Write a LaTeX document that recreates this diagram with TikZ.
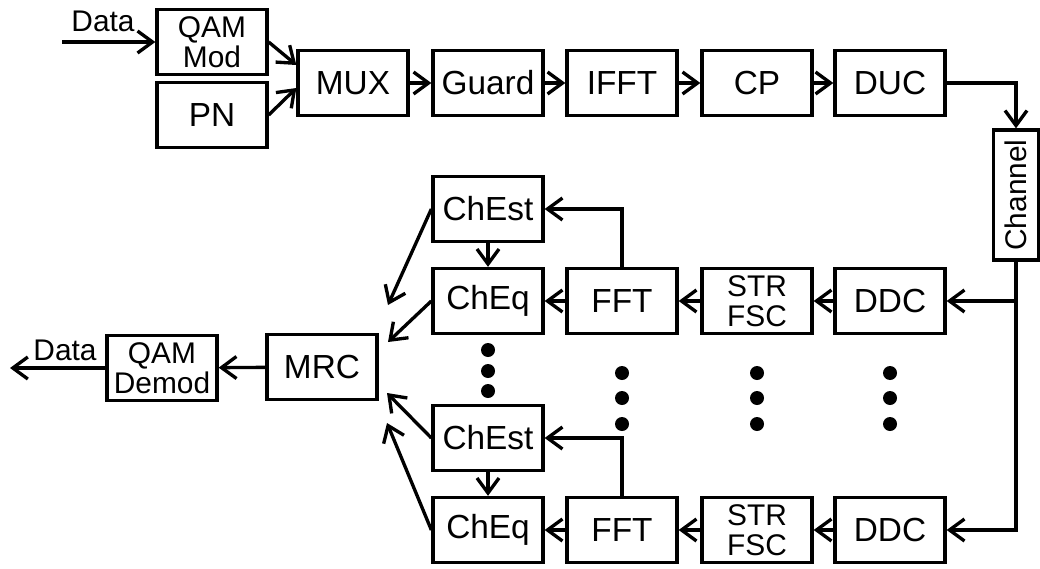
\documentclass[tikz,border=0pt]{standalone}
\usepackage{fontspec}
\setmainfont{Liberation Sans}
\usetikzlibrary{arrows.meta}
\begin{document}
\begin{tikzpicture}[x=0.02cm,y=-0.02cm,line width=1.9pt,
  >={Straight Barb[length=3mm,width=4.4mm]},
  blk/.style={draw,minimum width=2.2cm,minimum height=1.3cm,inner sep=0pt,font=\fontsize{19}{19}\selectfont},
  blktwo/.style={blk,align=center,font=\fontsize{17}{17}\selectfont},
  bullet/.style={circle,fill,inner sep=0pt,minimum size=0.28cm}]
  \useasboundingbox (0,0) rectangle (1040,568);
  % transmitter
  \node[blktwo] (qammod) at (212,42) {QAM\\Mod};
  \node[blk] (pn) at (212,115) {PN};
  \node[blk] (mux) at (353,83) {MUX};
  \node[blk] (guard) at (488,83) {Guard};
  \node[blk] (ifft) at (622,83) {IFFT};
  \node[blk] (cp) at (757,83) {CP};
  \node[blk] (duc) at (890,83) {DUC};
  \node[draw,rotate=90,minimum width=2.6cm,minimum height=0.9cm,inner sep=0pt,
    font=\fontsize{17}{17}\selectfont] (channel) at (1016,195) {Channel};
  \coordinate (datain) at (62,42);
  \node[font=\fontsize{17}{17}\selectfont] (datatx) at (103,21) {Data};
  \draw[->] (datain) -- (qammod);
  \draw[->] (qammod.east) -- ([yshift=0.36cm]mux.west);
  \draw[->] (pn.east) -- ([yshift=-0.1cm]mux.west);
  \draw[->] (mux) -- (guard);
  \draw[->] (guard) -- (ifft);
  \draw[->] (ifft) -- (cp);
  \draw[->] (cp) -- (duc);
  \draw[->] (duc.east) -| (channel.east);
  % receiver branches
  \node[blk] (chest1) at (488,209) {ChEst};
  \node[blk] (cheq1) at (488,301) {ChEq};
  \node[blk] (fft1) at (622,301) {FFT};
  \node[blktwo] (str1) at (757,301) {STR\\FSC};
  \node[blk] (ddc1) at (890,301) {DDC};
  \node[blk] (chest2) at (488,438) {ChEst};
  \node[blk] (cheq2) at (488,530) {ChEq};
  \node[blk] (fft2) at (622,530) {FFT};
  \node[blktwo] (str2) at (757,530) {STR\\FSC};
  \node[blk] (ddc2) at (890,530) {DDC};
  \draw[->] (channel.west) |- (ddc2.east);
  \draw[->] (channel.west |- ddc1.east) -- (ddc1.east);
  \foreach \i in {1,2} {
    \draw[->] (ddc\i) -- (str\i);
    \draw[->] (str\i) -- (fft\i);
    \draw[->] (fft\i) -- (cheq\i);
    \draw[->] (fft\i.north) |- (chest\i.east);
    \draw[->] (chest\i) -- (cheq\i);
  }
  % combining
  \node[blk] (mrc) at (322,367) {MRC};
  \node[blktwo] (qamdemod) at (162,368) {QAM\\Demod};
  \coordinate (m1) at (388,305);
  \coordinate (m2) at (388,342);
  \coordinate (m3) at (387,393);
  \coordinate (m4) at (387,423);
  \draw[->] (chest1.west) -- (m1);
  \draw[->] (cheq1.west) -- (m2);
  \draw[->] (chest2.west) -- (m3);
  \draw[->] (cheq2.west) -- (m4);
  \draw[->] (mrc) -- (qamdemod);
  \coordinate (dataout) at (10,368);
  \node[font=\fontsize{17}{17}\selectfont] (datarx) at (65,350) {Data};
  \draw[->] (qamdemod.west) -- (dataout);
  % dots
  \foreach \y in {350,371,391}
    \node[bullet] (d-488-\y) at (488,\y) {};
  \foreach \x in {622,757,890}
    \foreach \y in {373,398,424}
      \node[bullet] (d-\x-\y) at (\x,\y) {};
\end{tikzpicture}
\end{document}
